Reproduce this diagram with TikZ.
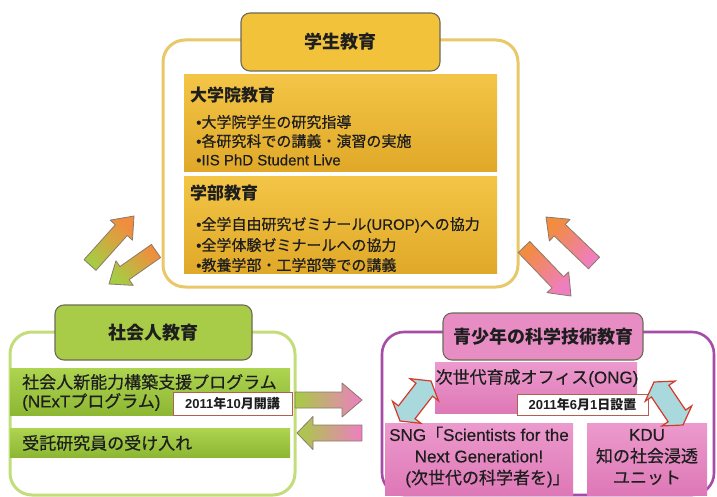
\documentclass[tikz,border=0pt]{standalone}
\usepackage{fontspec}
\setmainfont{Liberation Sans}[UprightFeatures={FakeBold=0.35}]
\newfontfamily\jp{Noto Sans CJK JP}[UprightFeatures={FakeBold=0.5}]
\usetikzlibrary{calc}
\definecolor{txt}{HTML}{1E1E1E}
\definecolor{goldhdr}{HTML}{F2C23A}
\definecolor{goldframe}{HTML}{E9C86A}
\definecolor{goldtop}{HTML}{F3C546}
\definecolor{goldbot}{HTML}{E0A828}
\definecolor{grnhdr}{HTML}{A8CB48}
\definecolor{grnframe}{HTML}{C3DD7A}
\definecolor{grntop}{HTML}{AED450}
\definecolor{grnbot}{HTML}{8DB733}
\definecolor{pinkhdr}{HTML}{E88DC4}
\definecolor{purframe}{HTML}{A64CA8}
\definecolor{pinktop}{HTML}{EC9ACD}
\definecolor{pinkbot}{HTML}{DE78B6}
\definecolor{hdrline}{HTML}{6E6A58}
\definecolor{arrline}{HTML}{8A7A6A}
\definecolor{arrgreen}{HTML}{A6CC44}
\definecolor{arrorange}{HTML}{F28C3E}
\definecolor{arrpink}{HTML}{EE7EC2}
\definecolor{dblfill}{HTML}{A9D9DC}
\definecolor{dblline}{HTML}{D43A2A}
\definecolor{dateline}{HTML}{B0604E}
\newcommand\blockarr[6]{%
  \coordinate (#1-hb) at ($(#2)!#5!(#1)$);
  \path[#6] ($(#1)!#3!90:(#2)$) -- ($(#1-hb)!#3!90:(#2)$) -- ($(#1-hb)!#4!90:(#2)$) -- (#2)
    -- ($(#1-hb)!#4!-90:(#2)$) -- ($(#1-hb)!#3!-90:(#2)$) -- ($(#1)!#3!-90:(#2)$) -- cycle;}
\newcommand\dblarr[6]{%
  \coordinate (#1-ha) at ($(#1)!#5!(#2)$);
  \coordinate (#2-hb) at ($(#2)!#5!(#1)$);
  \path[#6] (#1) -- ($(#1-ha)!#4!90:(#2)$) -- ($(#1-ha)!#3!90:(#2)$) -- ($(#2-hb)!#3!90:(#2)$)
    -- ($(#2-hb)!#4!90:(#2)$) -- (#2) -- ($(#2-hb)!#4!-90:(#2)$) -- ($(#2-hb)!#3!-90:(#2)$)
    -- ($(#1-ha)!#3!-90:(#2)$) -- ($(#1-ha)!#4!-90:(#2)$) -- cycle;}
\begin{document}
\begin{tikzpicture}[x=1pt,y=-1pt,
  hdrbox/.style={draw=hdrline, line width=1.1pt, rounded corners=9pt, inner sep=0pt,
    font=\fontsize{18}{21}\selectfont\bfseries\jp, text=txt},
  frame/.style={rounded corners=22pt, line width=3pt, fill=white, inner sep=0pt},
  band/.style={draw=none, inner sep=0pt},
  datebox/.style={draw=dateline, fill=white, line width=1pt, inner sep=0pt,
    font=\fontsize{13}{15}\selectfont\bfseries, text=txt},
  lbl/.style={anchor=west, inner sep=0pt, text=txt, font=\fontsize{17}{20}\selectfont},
  sublbl/.style={anchor=west, inner sep=0pt, text=txt, font=\fontsize{17}{20}\selectfont\bfseries\jp},
  item/.style={anchor=west, inner sep=0pt, text=txt, font=\fontsize{15}{18}\selectfont},
  boxtxt/.style={align=center, text=txt, inner sep=0pt, font=\fontsize{17}{21.5}\selectfont},
  blk/.style={draw=arrline, line width=0.8pt, line join=round},
  dbl/.style={draw=dblline, fill=dblfill, line width=1.2pt, line join=miter}]
\useasboundingbox (0,0) rectangle (717,497);
\fill[white] (0,0) rectangle (717,497);

% ---------- top: student education ----------
\node[frame, draw=goldframe, minimum width=355pt, minimum height=247pt] (topframe) at (340.5,163.5) {};
\node[hdrbox, fill=goldhdr, minimum width=199pt, minimum height=58pt] (tophdr) at (340.5,42) {学生教育};
\node[band, top color=goldtop, bottom color=goldbot, minimum width=313pt, minimum height=97pt] (grad) at (340.5,123.5) {};
\node[band, top color=goldtop, bottom color=goldbot, minimum width=313pt, minimum height=96pt] (under) at (340.5,225) {};
\node[sublbl] (gradt) at (190,95) {大学院教育};
\node[item] (g1) at (196,122) {•{\jp 大学院学生の研究指導}};
\node[item] (g2) at (196,141) {•{\jp 各研究科での講義・演習の実施}};
\node[item] (g3) at (196,160) {•IIS PhD Student  Live};
\node[sublbl] (undert) at (190,193) {学部教育};
\node[item] (u1) at (196,225) {•{\jp 全学自由研究ゼミナール}(UROP){\jp への協力}};
\node[item] (u2) at (196,245) {•{\jp 全学体験ゼミナールへの協力}};
\node[item] (u3) at (196,265) {•{\jp 教養学部・工学部等での講義}};

% ---------- left: adult education ----------
\node[frame, draw=grnframe, minimum width=285pt, minimum height=163pt] (lframe) at (152.5,413.5) {};
\node[hdrbox, fill=grnhdr, minimum width=197pt, minimum height=55pt] (lhdr) at (153.5,332.5) {社会人教育};
\node[band, top color=grntop, bottom color=grnbot, minimum width=280pt, minimum height=47pt] (band1) at (150,391.5) {};
\node[band, top color=grntop, bottom color=grnbot, minimum width=280pt, minimum height=29pt] (band2) at (150,442.5) {};
\node[lbl] (b1a) at (22,382) {\jp 社会人新能力構築支援プログラム};
\node[lbl] (b1b) at (22,402) {(NExT{\jp プログラム})};
\node[lbl] (b2) at (22,443) {\jp 受託研究員の受け入れ};
\node[datebox, minimum width=119pt, minimum height=23pt] (date1) at (232.5,403.5) {2011{\jp 年}10{\jp 月開講}};

% ---------- right: youth science education ----------
\node[frame, draw=purframe, line width=2.6pt, minimum width=332pt, minimum height=163pt] (rframe) at (548,413.5) {};
\node[hdrbox, fill=pinkhdr, minimum width=200pt, minimum height=47pt] (rhdr) at (543,336.5) {青少年の科学技術教育};
\node[band, top color=pinktop, bottom color=pinkbot, minimum width=202pt, minimum height=51pt] (ong) at (536,387.5) {};
\node[boxtxt] (ongt) at (537,378) {{\jp 次世代育成オフィス}(ONG)};
\node[datebox, minimum width=131pt, minimum height=21pt] (date2) at (582.5,404.5) {2011{\jp 年}6{\jp 月}1{\jp 日設置}};
\node[band, top color=pinktop, bottom color=pinkbot, minimum width=188pt, minimum height=72pt] (sng) at (479,459) {};
\node[boxtxt] (sngt) at (479,457) {SNG{\jp 「}Scientists for the\\Next Generation!\\({\jp 次世代の科学者を})\rlap{\jp 」}};
\node[band, top color=pinktop, bottom color=pinkbot, minimum width=120pt, minimum height=72pt] (kdu) at (647,459) {};
\node[boxtxt] (kdut) at (647,457) {KDU\\{\jp 知の社会浸透}\\{\jp ユニット}};

% ---------- block arrows ----------
\coordinate (la1t) at (90,265);  \coordinate (la1h) at (134,216);
\coordinate (la2t) at (156,251); \coordinate (la2h) at (109,284);
\coordinate (ra1t) at (594,263); \coordinate (ra1h) at (546,217);
\coordinate (ra2t) at (524,247); \coordinate (ra2h) at (571,296);
\coordinate (ha1t) at (295,400); \coordinate (ha1h) at (362,400);
\coordinate (ha2t) at (362,433); \coordinate (ha2h) at (297,433);
\blockarr{la1t}{la1h}{8pt}{15pt}{19pt}{blk, top color=arrgreen, bottom color=arrorange, shading angle=135}
\blockarr{la2t}{la2h}{8pt}{15pt}{19pt}{blk, top color=arrgreen, bottom color=arrorange, shading angle=135}
\blockarr{ra1t}{ra1h}{8pt}{15pt}{19pt}{blk, top color=arrorange, bottom color=arrpink, shading angle=45}
\blockarr{ra2t}{ra2h}{8pt}{15pt}{19pt}{blk, top color=arrorange, bottom color=arrpink, shading angle=45}
\blockarr{ha1t}{ha1h}{8pt}{17pt}{20pt}{blk, left color=arrgreen, right color=arrpink}
\blockarr{ha2t}{ha2h}{8pt}{16.5pt}{16pt}{blk, left color=arrgreen, right color=arrpink}

% ---------- double arrows ----------
\coordinate (dlA) at (400,421); \coordinate (dlB) at (431,381);
\coordinate (drA) at (654,382); \coordinate (drB) at (683,425);
\dblarr{dlA}{dlB}{10.5pt}{18pt}{11pt}{dbl}
\dblarr{drA}{drB}{10.5pt}{18pt}{11pt}{dbl}
\end{tikzpicture}
\end{document}
